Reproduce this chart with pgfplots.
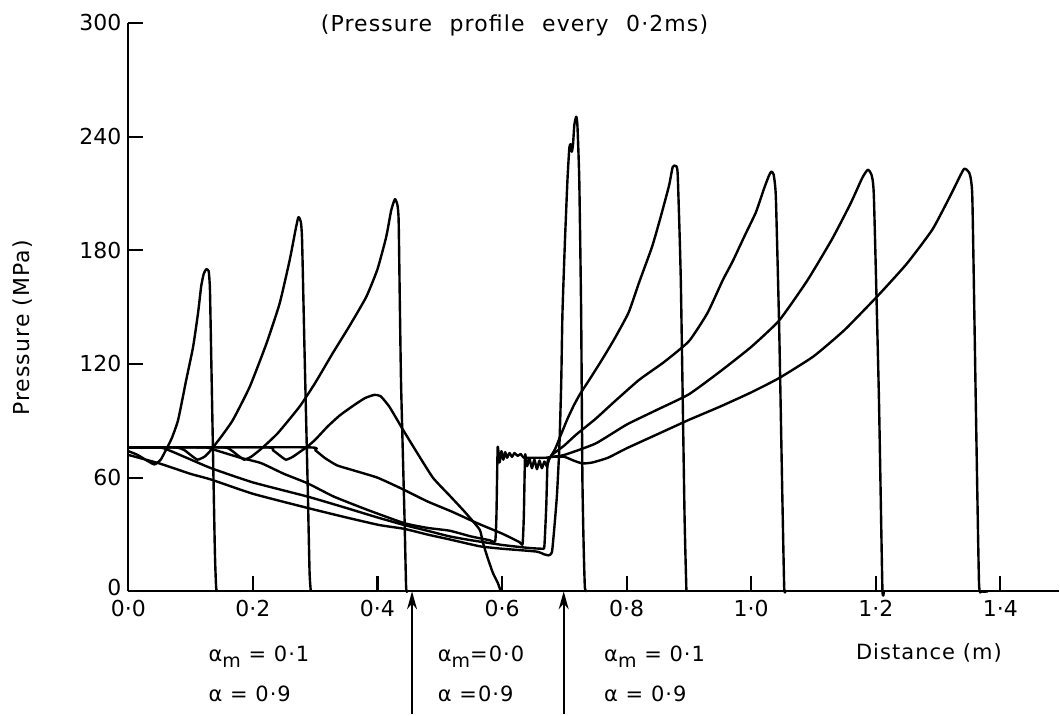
\documentclass[border=0pt]{standalone}
\usepackage{pgfplots}
\pgfplotsset{compat=1.18}
\usepackage{fontspec}
\setmainfont{DejaVu Sans}
\newfontfamily\labfont[LetterSpace=5]{DejaVu Sans}
\usetikzlibrary{arrows.meta}
\newcommand{\am}{α\raisebox{-0.55ex}{\fontsize{9.5}{11}\selectfont m}}
\begin{document}
\begin{tikzpicture}[font=\fontsize{11}{13}\selectfont]
\begin{axis}[
  scale only axis, width=465.75pt, height=284.5pt,
  xmin=0, xmax=1.494, ymin=0, ymax=300,
  axis x line*=bottom, axis y line*=left,
  axis line style={line width=1.1pt, black},
  tick align=inside, major tick length=7.5pt,
  tick style={line width=1.1pt, black},
  xtick={0,0.2,0.4,0.6,0.8,1.0,1.2,1.4},
  xticklabels={0·0,0·2,0·4,0·6,0·8,1·0,1·2,1·4},
  xticklabel style={yshift=-1pt},
  ytick={0,60,120,180,240,300},
  yticklabels={\raisebox{4pt}{0},60,120,180,240,300},
  clip=false,
  cycle list={black,solid\\},
  every axis plot/.append style={no markers, line join=round, line width=1.2pt, smooth, tension=0.3},
]
% bounding frame (invisible)
\path (axis cs:-0.206,-64.85) rectangle (axis cs:1.494,312.1);
% P1
\addplot coordinates {(0,74) (0.015,72) (0.03,69) (0.042,67) (0.052,69.5) (0.061,75) (0.07,81) (0.08,90.5) (0.093,111.6) (0.104,129) (0.112,147) (0.117,161) (0.121,167.5) (0.125,170) (0.129,169) (0.131,160) (0.133,126) (0.136,73) (0.139,20.5) (0.141,2) (0.143,0)};
% P2
\addplot coordinates {(0,76) (0.075,76) (0.09,74.5) (0.10,72) (0.111,69.5) (0.122,71) (0.13,73.5) (0.136,76) (0.15,82) (0.168,90.5) (0.195,108) (0.222,131) (0.243,152) (0.259,174.7) (0.268,190) (0.273,197.5) (0.277,195) (0.279,185) (0.283,125.6) (0.288,55.4) (0.291,10) (0.293,0)};
% P3
\addplot coordinates {(0,76) (0.15,76) (0.165,74.5) (0.175,72) (0.186,69.5) (0.197,71) (0.207,73.5) (0.216,76) (0.24,83.5) (0.275,97.5) (0.30,110) (0.328,125.6) (0.355,140) (0.382,155.4) (0.40,170) (0.414,187) (0.422,201) (0.428,207) (0.432,204) (0.434,195.8) (0.436,150) (0.438,108) (0.4435,38) (0.446,2) (0.448,0)};
% P4
\addplot coordinates {(0,76) (0.22,76) (0.232,74.5) (0.242,72) (0.253,69.5) (0.264,71) (0.275,73.5) (0.286,76) (0.30,80) (0.32,87) (0.34,93) (0.363,98.4) (0.38,102) (0.395,103.7) (0.405,103) (0.419,97.5) (0.441,85.3) (0.462,74) (0.489,60) (0.516,50.5) (0.54,42) (0.564,32.6) (0.569,26) (0.576,18.6) (0.585,10) (0.593,4.6) (0.598,0)};
% Q -> P10
\addplot coordinates {(0,76) (0.288,76) (0.30,74.5) (0.315,70.5) (0.335,66.5) (0.36,64) (0.40,60) (0.44,54) (0.48,47.5) (0.52,42) (0.56,36) (0.60,30.5) (0.628,26) (0.633,25) (0.635,40) (0.637,72) (0.640,66) (0.644,70) (0.648,65) (0.652,69.5) (0.656,64.5) (0.660,69) (0.664,65) (0.668,68.5) (0.672,66) (0.676,70) (0.68,72) (0.69,74.5) (0.70,77) (0.72,83) (0.75,91) (0.78,100) (0.82,111.6) (0.86,121) (0.90,132) (0.93,147) (0.954,164) (0.97,174) (0.99,188) (1.0075,200) (1.02,212) (1.028,219) (1.032,221.5) (1.036,220) (1.0396,208) (1.045,138) (1.050,50) (1.053,2) (1.055,0)};
% L3 -> P11
\addplot coordinates {(0,76) (0.12,76) (0.135,75) (0.15,73.5) (0.18,70.5) (0.213,67.7) (0.25,62) (0.288,57) (0.33,50) (0.384,43) (0.443,36) (0.48,33.5) (0.516,32) (0.55,29) (0.58,27) (0.589,26.5) (0.591,40) (0.593,76) (0.596,68) (0.599,74) (0.602,69.5) (0.605,73.5) (0.608,70.5) (0.612,73) (0.616,71) (0.620,73) (0.625,71.5) (0.630,72.5) (0.635,70.5) (0.65,70.5) (0.67,70.5) (0.68,71) (0.70,72) (0.75,78) (0.80,88) (0.85,96) (0.90,104) (0.95,116) (1.00,129) (1.045,143) (1.09,164) (1.13,186) (1.16,205) (1.178,218) (1.187,222.5) (1.193,220) (1.197,208) (1.205,103) (1.2106,2) (1.213,0)};
% L2 -> P9
\addplot coordinates {(0,76) (0.05,76) (0.065,74.5) (0.09,71) (0.133,65) (0.2,57.5) (0.288,50) (0.35,44) (0.40,39) (0.443,35) (0.48,32) (0.516,29) (0.55,27) (0.60,24.5) (0.64,23) (0.665,22.5) (0.668,24) (0.671,45) (0.673,68) (0.676,70) (0.685,75) (0.695,83) (0.705,91) (0.715,98) (0.725,104) (0.74,111.6) (0.76,122) (0.78,133) (0.803,147) (0.82,163) (0.841,182) (0.855,198) (0.868,214) (0.874,224) (0.879,224.5) (0.882,220) (0.887,164) (0.893,40) (0.896,0)};
% L1 -> P8
\addplot coordinates {(0,72) (0.05,67.5) (0.10,62) (0.133,59) (0.20,51.5) (0.288,44) (0.35,39) (0.403,35) (0.443,33) (0.48,30) (0.516,27.4) (0.564,23.8) (0.60,22.5) (0.655,21) (0.668,19.5) (0.675,19) (0.680,20.5) (0.683,30) (0.688,50) (0.692,76) (0.695,110) (0.697,147) (0.701,185) (0.705,217) (0.708,234) (0.710,236) (0.712,232) (0.714,236) (0.716,246) (0.719,250.5) (0.721,246) (0.724,217) (0.727,147) (0.729,60) (0.731,24) (0.733,2) (0.736,0)};
% P12
\addplot coordinates {(0.68,71) (0.70,71) (0.715,69) (0.729,67.5) (0.745,68) (0.77,70.5) (0.80,75.5) (0.85,83) (0.90,90.5) (0.95,97.5) (1.00,105) (1.045,112.6) (1.10,124) (1.15,138) (1.205,156.6) (1.25,173) (1.291,191) (1.32,209) (1.335,219) (1.342,223) (1.35,221) (1.355,208) (1.3604,103) (1.3657,5) (1.37,0) (1.38,0)};
% annotations
\node[anchor=base, font=\labfont\fontsize{11}{13}\selectfont] at (axis cs:0.62,295.4) {(Pressure\hspace{0.8em}profile\hspace{0.8em}every\hspace{0.8em}0·2ms)};
\node[rotate=90, anchor=center, font=\labfont\fontsize{11}{13}\selectfont] at (axis cs:-0.169,139) {Pressure (MPa)};
\draw[line width=0.8pt, -{Stealth[length=9pt,width=5pt]}] (axis cs:0.4555,-64.85) -- (axis cs:0.4555,0);
\draw[line width=0.8pt, -{Stealth[length=9pt,width=5pt]}] (axis cs:0.699,-64.85) -- (axis cs:0.699,0);
\node[anchor=base west, font=\labfont\fontsize{10.5}{12}\selectfont] at (axis cs:0.1175,-36.9) {\am\ = 0·1};
\node[anchor=base west, font=\labfont\fontsize{10.5}{12}\selectfont] at (axis cs:0.1175,-58) {α = 0·9};
\node[anchor=base west, font=\labfont\fontsize{10.5}{12}\selectfont] at (axis cs:0.4857,-36.9) {\am{}=0·0};
\node[anchor=base west, font=\labfont\fontsize{10.5}{12}\selectfont] at (axis cs:0.4857,-58) {α =0·9};
\node[anchor=base west, font=\labfont\fontsize{10.5}{12}\selectfont] at (axis cs:0.7527,-36.9) {\am\ = 0·1};
\node[anchor=base west, font=\labfont\fontsize{10.5}{12}\selectfont] at (axis cs:0.7527,-58) {α = 0·9};
\node[anchor=base west, font=\labfont\fontsize{10.5}{12}\selectfont] at (axis cs:1.157,-35.8) {Distance (m)};
\end{axis}
\end{tikzpicture}
\end{document}
